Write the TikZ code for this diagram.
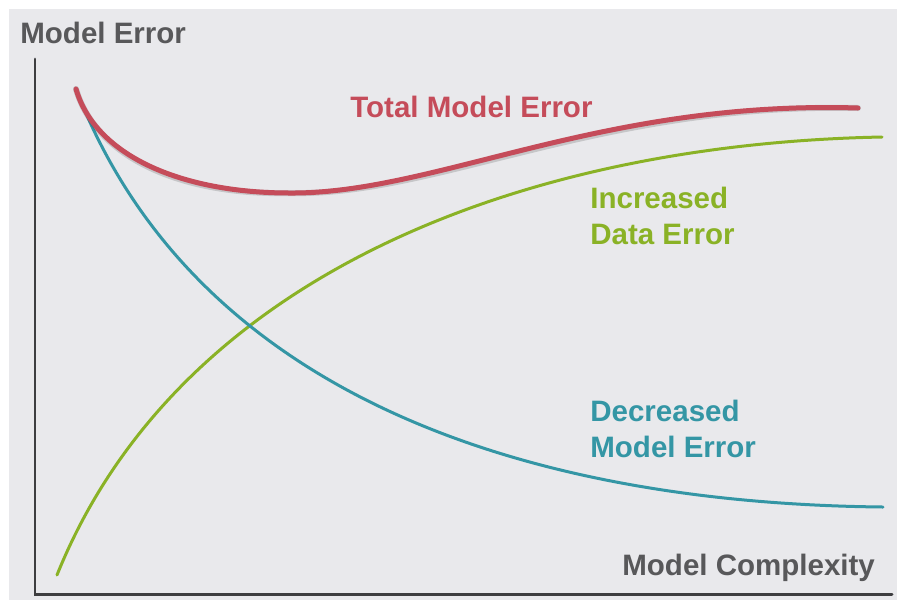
\documentclass[tikz,border=0pt]{standalone}
\usepackage{fontspec}
\setmainfont{Liberation Sans}
\usepackage{xcolor}
\usepackage{tikz}
\usetikzlibrary{positioning}
\definecolor{panel}{RGB}{233,233,236}
\definecolor{axisgray}{RGB}{62,62,64}
\definecolor{labelgray}{RGB}{88,88,90}
\definecolor{totalred}{RGB}{197,76,90}
\definecolor{datagreen}{RGB}{138,178,38}
\definecolor{modelteal}{RGB}{52,150,165}
\tikzset{
    axisline/.style={draw=axisgray, line width=0.06cm, line cap=round},
    totalcurve/.style={draw=totalred, line width=0.1cm, line cap=round},
    totalshadow/.style={draw=black, opacity=0.15, line width=0.12cm, line cap=round},
    datacurve/.style={draw=datagreen, line width=0.06cm, line cap=round},
    modelcurve/.style={draw=modelteal, line width=0.06cm, line cap=round},
    caption/.style={inner sep=0pt, font=\bfseries\fontsize{16.8}{20.5}\selectfont, align=left}
}
\begin{document}
\begin{tikzpicture}[x=0.02cm, y=-0.02cm]
    % Panel
    \useasboundingbox (0,0) rectangle (897,600);
    \fill[panel] (9,9) rectangle (897,600);

    % Axes
    \coordinate (ytop) at (35,59);
    \coordinate (origin) at (35,594);
    \coordinate (xend) at (892,594);
    \draw[axisline] (ytop) -- (origin) -- (xend);

    % Axis titles
    \node[caption, text=labelgray, anchor=base west] (yaxis) at (20,43) {Model Error};
    \node[caption, text=labelgray, anchor=base west] (xaxis) at (622,575) {Model Complexity};

    % Curve ends
    \coordinate (start) at (76,89);
    \coordinate (datastart) at (57,575);
    \coordinate (dataend) at (882,137);
    \coordinate (modelend) at (883,507);
    \coordinate (totalmin) at (290,193);
    \coordinate (totalend) at (858,108);

    % Increased data error
    \draw[datacurve] (datastart) .. controls (178,275) and (522,144) .. (dataend);

    % Decreased model error
    \draw[modelcurve] (start) .. controls (187,377) and (494,503) .. (modelend);

    % Total model error
    \draw[totalshadow, shift={(1,2.5)}] (start) .. controls (95,155) and (180,193) .. (totalmin)
        .. controls (435,194) and (600,100) .. (totalend);
    \draw[totalcurve] (start) .. controls (95,155) and (180,193) .. (totalmin)
        .. controls (435,194) and (600,100) .. (totalend);

    % Curve labels
    \node[caption, text=totalred, anchor=base west] (total) at (350,117) {Total Model Error};
    \node[caption, text=datagreen, anchor=north west] (data) at (590,187) {Increased\\Data Error};
    \node[caption, text=modelteal, anchor=north west] (model) at (590,400) {Decreased\\Model Error};
\end{tikzpicture}
\end{document}
